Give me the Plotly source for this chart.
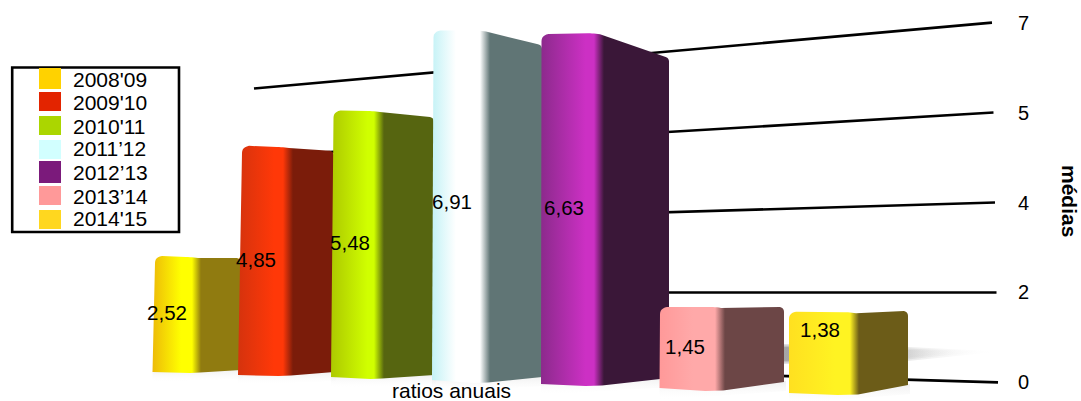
import plotly.graph_objects as go

# Chart data
categories = ["2008'09", "2009'10", "2010'11", "2011’12", "2012’13", "2013’14", "2014'15"]
values = [2.52, 4.85, 5.48, 6.91, 6.63, 1.45, 1.38]
tick_values = [0, 1.75, 3.5, 5.25, 7]
tick_labels = ["0", "2", "4", "5", "7"]
swatch_colors = ["#FFD200", "#E32400", "#ABD600", "#D2FFFF", "#7B1A7B", "#FF9999", "#FFD71F"]

# Perspective layout of each column, in canvas pixels
left_top_x = [155, 242, 333.5, 433.5, 541.5, 660, 789]
left_base_x = [152.5, 238, 331, 432, 541, 659.5, 789]
ridge_x = [192, 283, 374, 480, 594, 715, 850]
ridge_end_x = [201, 293, 384, 490, 604, 725, 859]
right_x = [241, 334, 434, 542, 669, 784, 908]
base_left_y = [372, 375, 377, 380, 384, 388, 393]
base_mid_y = [373, 376, 379, 383, 386, 391, 395]
base_right_y = [370, 372, 375, 377, 378, 382, 385]
scale_left = [45.6, 47.0, 48.4, 50.4, 52.6, 55.0, 58.0]
scale_mid = [46.0, 47.2, 48.9, 51.0, 53.2, 58.0, 60.0]
scale_right = [44.0, 45.4, 46.9, 48.0, 48.3, 51.0, 52.9]
label_x = [167, 256, 350, 452, 564, 685, 820]
label_shift = [0, 0, 0, -3, 0, 0, -22]

# Cylinder-like shading: left edge, lit front, side face
shade_edge = ["#EDBB08", "#D5330D", "#ADC900", "#C4F2F6", "#8C2A8C", "#FF9999", "#FFE020"]
shade_lit = ["#FFFF00", "#FF3808", "#D0FF00", "#FFFFFF", "#CC30C4", "#FFA9A9", "#FFF322"]
shade_side = ["#907B10", "#7B1C0A", "#566510", "#607575", "#3A1738", "#6C4646", "#6C5C18"]
lit_fraction = [0.72, 0.8, 0.85, 0.5, 0.84, 0.6, 0.75]

AXIS_ZERO_PX = 382.4
PX_PER_UNIT = 51.4
WIDTH, HEIGHT = 1081, 401
FONT = "Liberation Sans"


def to_axis(px):
    return (AXIS_ZERO_PX - px) / PX_PER_UNIT


def bezier(p0, p1, p2, n=6):
    pts = []
    for i in range(n + 1):
        t = i / n
        pts.append(((1 - t) ** 2 * p0[0] + 2 * t * (1 - t) * p1[0] + t ** 2 * p2[0],
                    (1 - t) ** 2 * p0[1] + 2 * t * (1 - t) * p1[1] + t ** 2 * p2[1]))
    return pts


def column_outline(i):
    v = values[i]
    tl = (left_top_x[i], base_left_y[i] - scale_left[i] * v)
    tm = (ridge_x[i], base_mid_y[i] - scale_mid[i] * v)
    tr = (right_x[i], base_right_y[i] - scale_right[i] * v)
    bl = (left_base_x[i], base_left_y[i])
    bm = ((ridge_x[i] + left_base_x[i]) / 2 + 18, base_mid_y[i])
    br = (right_x[i], base_right_y[i])
    pts = [bl, (tl[0], tl[1] + 6)]
    pts += bezier((tl[0], tl[1] + 6), tl, (tl[0] + 7, tl[1] - 1.2))
    pts += bezier((tm[0] - 6, tm[1]), tm, (tm[0] + 6, tm[1] + 1))
    pts += bezier((tr[0] - 4, tr[1] - 1), tr, (tr[0], tr[1] + 4))
    pts += [br, (ridge_x[i] + 8, base_mid_y[i] - 0.5), bm, bl]
    return [p[0] for p in pts], [to_axis(p[1]) for p in pts]


def column_gradient(i):
    span = right_x[i] - left_base_x[i]
    pos = lambda x: min(1, max(0, (x - left_base_x[i]) / span))
    lit_start = left_base_x[i] + lit_fraction[i] * (ridge_x[i] - left_base_x[i])
    return [
        [0, shade_edge[i]],
        [pos(lit_start), shade_lit[i]],
        [pos(ridge_x[i]), shade_lit[i]],
        [pos(ridge_end_x[i]), shade_side[i]],
        [1, shade_side[i]],
    ]


fig = go.Figure()

# Wall gridlines converge towards a vanishing point on the left
GRID_LEFT = 254
for v in tick_values:
    x_end = 998 - 0.86 * v
    xs = [GRID_LEFT, x_end]
    ys = [v - (x_end - x) * (v - 1.75) * 0.017 / PX_PER_UNIT for x in xs]
    fig.add_trace(go.Scatter(x=xs, y=ys, mode="lines", hoverinfo="skip", showlegend=False,
                             line=dict(color="#000000", width=2.6)))

# Floor shadow cast to the right of the last columns, layered for a soft edge
for pad, alpha in [(3.0, 0.22), (1.5, 0.28), (0.0, 0.32)]:
    shadow_x = [783, 908, 1000 - 12 * (3 - pad), 908, 783, 783]
    shadow_y = [347 - pad, 350 - pad, 351.5, 358 + pad, 361 + pad, 347 - pad]
    fig.add_trace(go.Scatter(
        x=shadow_x, y=[to_axis(p) for p in shadow_y], mode="none", fill="toself",
        hoverinfo="skip", showlegend=False,
        fillgradient=dict(type="horizontal", colorscale=[[0, f"rgba(110,110,110,{alpha})"],
                                                         [0.55, f"rgba(150,150,150,{alpha})"],
                                                         [1, "rgba(255,255,255,0)"]]),
    ))

# Soft contact shadow under each column
for i in range(len(values)):
    xs = [left_base_x[i], right_x[i] + 2, right_x[i] + 2, left_base_x[i], left_base_x[i]]
    ys = [base_left_y[i] - 1, base_right_y[i] - 1, base_right_y[i] + 9, base_mid_y[i] + 9, base_left_y[i] - 1]
    fig.add_trace(go.Scatter(
        x=xs, y=[to_axis(p) for p in ys], mode="none", fill="toself",
        hoverinfo="skip", showlegend=False,
        fillgradient=dict(type="vertical", colorscale=[[0, "rgba(255,255,255,0)"],
                                                       [1, "rgba(200,200,200,0.3)"]]),
    ))

# Columns, drawn left to right so nearer ones overlap
for i, name in enumerate(categories):
    xs, ys = column_outline(i)
    fig.add_trace(go.Scatter(
        x=xs, y=ys, mode="none", fill="toself", name=name, showlegend=False,
        hoverinfo="skip",
        fillgradient=dict(type="horizontal", colorscale=column_gradient(i)),
    ))

# Value labels at mid-height of each column
label_y = [to_axis((base_mid_y[i] + base_mid_y[i] - scale_mid[i] * values[i]) / 2 + label_shift[i])
           for i in range(len(values))]
fig.add_trace(go.Scatter(
    x=label_x, y=label_y, mode="text", hoverinfo="skip", showlegend=False,
    text=[f"{v:.2f}".replace(".", ",") for v in values],
    textposition="middle center",
    textfont=dict(family=FONT, size=20.5, color="#000000"),
))

# Hand-built legend box
swatch_top = [68, 92, 116, 140, 161, 186, 210]
swatch_bottom = [89, 111, 135, 159, 183, 205, 229]
legend_text_y = [79, 102, 126, 148, 172, 196, 218]

shapes = [dict(type="rect", xref="x", yref="y", x0=12.2, x1=179, y0=to_axis(67.5), y1=to_axis(232),
               line=dict(color="#000000", width=2.6), fillcolor="#FFFFFF", layer="above")]
annotations = []
for name, color, top, bottom, text_y in zip(categories, swatch_colors, swatch_top, swatch_bottom, legend_text_y):
    shapes.append(dict(type="rect", xref="x", yref="y", x0=39, x1=61, y0=to_axis(top), y1=to_axis(bottom),
                       line=dict(width=0), fillcolor=color, layer="above"))
    annotations.append(dict(x=73, y=to_axis(text_y), xref="x", yref="y", text=name, showarrow=False,
                            xanchor="left", yanchor="middle", xshift=-2,
                            font=dict(family=FONT, size=21, color="#000000")))

# Axis titles
annotations.append(dict(x=451, y=to_axis(390), xref="x", yref="y", text="ratios anuais", showarrow=False,
                        font=dict(family=FONT, size=21, color="#000000")))
annotations.append(dict(x=1070, y=to_axis(201), xref="x", yref="y", text="<b>médias</b>", showarrow=False,
                        textangle=90, font=dict(family=FONT, size=21, color="#000000")))

fig.update_layout(
    width=WIDTH, height=HEIGHT, margin=dict(l=0, r=0, t=0, b=0),
    paper_bgcolor="#FFFFFF", plot_bgcolor="#FFFFFF", showlegend=False,
    shapes=shapes, annotations=annotations,
    xaxis=dict(range=[0, WIDTH], visible=False, domain=[0, 1], fixedrange=True),
    yaxis=dict(
        range=[to_axis(HEIGHT), to_axis(0)], side="right", anchor="free", position=1017 / WIDTH,
        tickmode="array", tickvals=tick_values, ticktext=tick_labels,
        showgrid=False, zeroline=False, showline=False, ticks="",
        tickfont=dict(family=FONT, size=20, color="#000000"), fixedrange=True,
    ),
)

fig.write_html("out.html", config=dict(displayModeBar=False))
